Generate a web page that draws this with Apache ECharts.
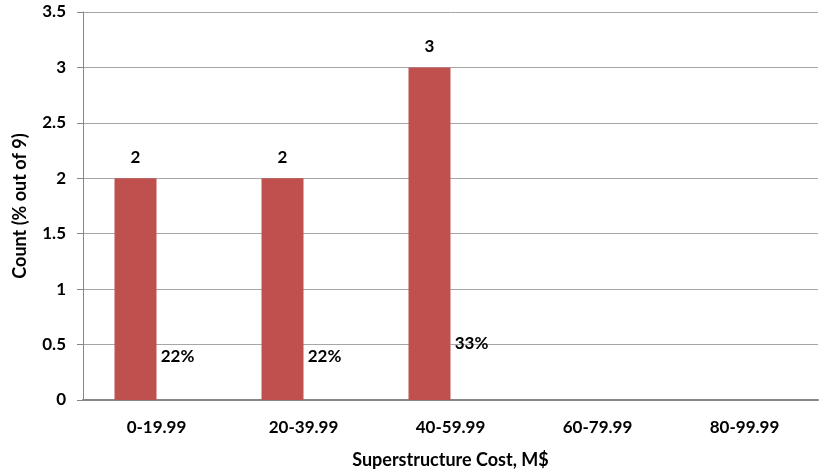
<!DOCTYPE html>
<html><head><meta charset="utf-8">
<script src="https://cdn.jsdelivr.net/npm/echarts@6/dist/echarts.min.js"></script>
<style>html,body{margin:0;padding:0;background:#fff}#c{width:819px;height:473px}</style>
</head><body><div id="c"></div>
<script>
const categories = ['0-19.99','20-39.99','40-59.99','60-79.99','80-99.99'];
const counts = [2, 2, 3, 0, 0];
const shares = [0.22, 0.22, 0.33, null, null];
const shareLabels = ['22%', '22%', '33%', '', ''];
const yTicks = [0, 0.5, 1, 1.5, 2, 2.5, 3, 3.5];

const font = 'Lato, "Open Sans", sans-serif';
const chart = echarts.init(document.getElementById('c'));
chart.setOption({
  animation: false,
  grid: {left: 83, right: 1, top: 12, bottom: 73, containLabel: false, outerBoundsMode: 'none'},
  xAxis: {
    type: 'category', data: categories,
    name: 'Superstructure Cost, M$', nameLocation: 'middle', nameGap: 51,
    nameTextStyle: {fontFamily: font, fontWeight: 'bold', fontSize: 18, color: '#000'},
    axisLine: {lineStyle: {color: '#868686', width: 2}},
    axisTick: {show: false},
    axisLabel: {fontFamily: font, fontWeight: 'bold', fontSize: 17, color: '#000', margin: 19}
  },
  yAxis: {
    type: 'value', min: yTicks[0], max: yTicks[yTicks.length-1], interval: 0.5,
    name: 'Count (% out of 9)', nameLocation: 'middle', nameGap: 54, nameRotate: 90,
    nameTextStyle: {fontFamily: font, fontWeight: 'bold', fontSize: 18, color: '#000'},
    axisLine: {show: true, lineStyle: {color: '#868686', width: 1}},
    axisTick: {show: true, length: 6, lineStyle: {color: '#868686'}},
    splitLine: {lineStyle: {color: '#A6A6A6', width: 1}},
    axisLabel: {fontFamily: font, fontWeight: 'bold', fontSize: 17, color: '#000', margin: 17}
  },
  series: [
    {
      type: 'bar', data: counts, barWidth: 42, barGap: '0%',
      itemStyle: {color: '#C0504D'},
      label: {show: true, position: 'top', distance: 12, fontFamily: font, fontWeight: 'bold', fontSize: 17, color: '#000',
        formatter: p => p.value ? String(p.value) : ''}
    },
    {
      type: 'bar', data: shares, barWidth: 42,
      itemStyle: {color: 'rgba(0,0,0,0)'},
      label: {show: true, position: 'top', distance: 11, fontFamily: font, fontWeight: 'bold', fontSize: 17, color: '#000',
        formatter: p => shareLabels[p.dataIndex]}
    }
  ]
});
</script></body></html>
